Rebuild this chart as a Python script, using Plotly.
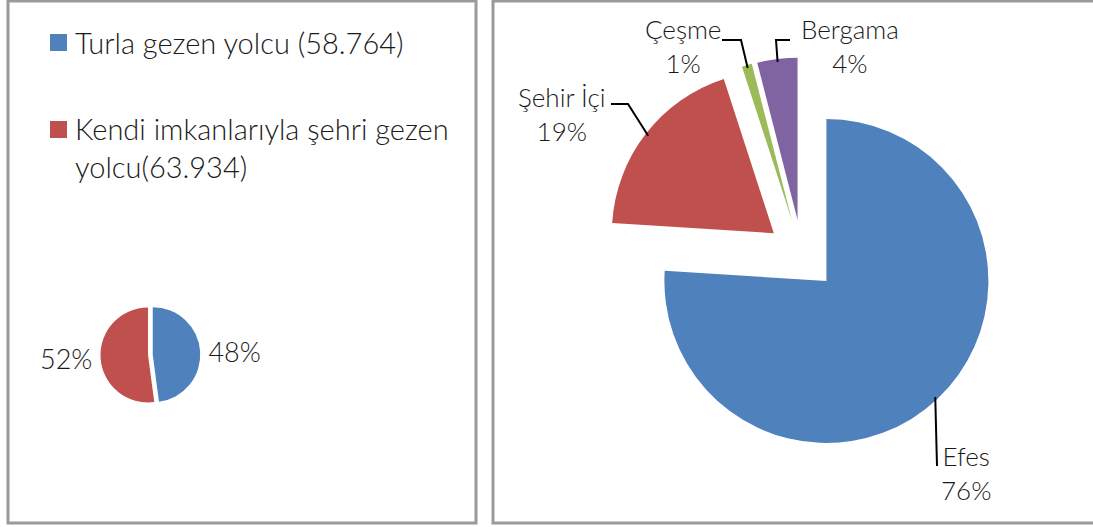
import math
import plotly.graph_objects as go

# ---------------- data ----------------
left_labels = ["Turla gezen yolcu (58.764)", "Kendi imkanlarıyla şehri gezen yolcu(63.934)"]
left_values = [58764, 63934]
left_colors = ["#4F81BD", "#C0504D"]

right_labels = ["Efes", "Şehir İçi", "Çeşme", "Bergama"]
right_values = [76, 19, 1, 4]
right_colors = ["#4F81BD", "#C0504D", "#9BBB59", "#8064A2"]

# ---------------- layout constants ----------------
W, H = 1093, 527
FONT = "Lato"
WEIGHT = 300
TXT = "#1a1a1a"


def X(px):
    return px / W


def Y(py):
    return 1 - py / H


# left pie geometry (pixels)
LCX, LCY, LR, LPULL = 148, 355, 47.5, 0.1
lbox = 2 * LR * (1 + LPULL)
# right pie geometry (pixels)
RCX, RCY, RR, RPULL = 802, 255, 162, 0.22
rbox = 2 * RR * (1 + RPULL)

fig = go.Figure()

fig.add_trace(go.Pie(
    labels=left_labels, values=left_values, sort=False, direction="clockwise",
    rotation=0, pull=[LPULL, 0],
    marker=dict(colors=left_colors, line=dict(width=0)),
    textposition="outside", texttemplate="%{percent:.0%}",
    textfont=dict(family=FONT, size=27, color=TXT, weight=WEIGHT),
    domain=dict(x=[X(LCX - lbox / 2), X(LCX + lbox / 2)],
                y=[Y(LCY + lbox / 2), Y(LCY - lbox / 2)]),
    showlegend=False, hoverinfo="label+value+percent",
))

fig.add_trace(go.Pie(
    labels=right_labels, values=right_values, sort=False, direction="clockwise",
    rotation=0, pull=[RPULL] * len(right_values),
    marker=dict(colors=right_colors, line=dict(width=0)),
    textinfo="none",
    domain=dict(x=[X(RCX - rbox / 2), X(RCX + rbox / 2)],
                y=[Y(RCY + rbox / 2), Y(RCY - rbox / 2)]),
    showlegend=False, hoverinfo="label+percent",
))

shapes = []
annotations = []


def add_text(x, y, text, size, anchor="left"):
    annotations.append(dict(xref="paper", yref="paper", x=X(x), y=Y(y),
                            xanchor=anchor, yanchor="middle", align=anchor,
                            showarrow=False, text=text,
                            font=dict(family=FONT, size=size, color=TXT, weight=WEIGHT)))


# panel borders
BORDER = dict(color="#9a9a9a", width=3)
shapes.append(dict(type="rect", xref="paper", yref="paper",
                   x0=X(8), x1=X(476), y0=Y(523), y1=Y(1), line=BORDER))
shapes.append(dict(type="rect", xref="paper", yref="paper",
                   x0=X(493), x1=X(1100), y0=Y(523), y1=Y(1), line=BORDER))

# legend (left panel) drawn as squares + text
legend_rows = [  # (square top y, text centre y, text)
    (34, 42, left_labels[0]),
    (121, 148, "Kendi imkanlarıyla şehri gezen<br>yolcu(63.934)"),
]
for (sy, ty, text), col in zip(legend_rows, left_colors):
    shapes.append(dict(type="rect", xref="paper", yref="paper",
                       x0=X(50), x1=X(67), y0=Y(sy + 17), y1=Y(sy),
                       fillcolor=col, line=dict(width=0)))
    add_text(73, ty, text, 29)

# right pie labels with leader lines
total = sum(right_values)
label_pos = {  # text centre x, text centre y, elbow point, line start
    "Efes": (966, 473, (937, 466), (937, 466)),
    "Şehir İçi": (562, 114, (628, 104), (611, 104)),
    "Çeşme": (683, 46, (741, 40), (722, 40)),
    "Bergama": (850, 46, (776, 40), (790, 40)),
}
cum = 0
for lab, v in zip(right_labels, right_values):
    mid = (cum + v / 2) / total * 2 * math.pi
    cum += v
    ax = RCX + RR * (1 + RPULL) * 0.985 * math.sin(mid)
    ay = RCY - RR * (1 + RPULL) * 0.985 * math.cos(mid)
    tx, ty, (ex, ey), (sx, sy) = label_pos[lab]
    pct = round(v / total * 100)
    shapes.append(dict(type="path", xref="paper", yref="paper",
                       path=f"M {X(sx)} {Y(sy)} L {X(ex)} {Y(ey)} L {X(ax)} {Y(ay)}",
                       line=dict(color="black", width=2)))
    add_text(tx, ty, f"{lab}<br>{pct}%", 26, "center")

fig.update_layout(
    width=W, height=H, margin=dict(l=0, r=0, t=0, b=0),
    paper_bgcolor="white", plot_bgcolor="white",
    shapes=shapes, annotations=annotations,
)

fig.write_html("out.html", config={"displayModeBar": False},
               post_script="document.body.style.margin='0px';")
